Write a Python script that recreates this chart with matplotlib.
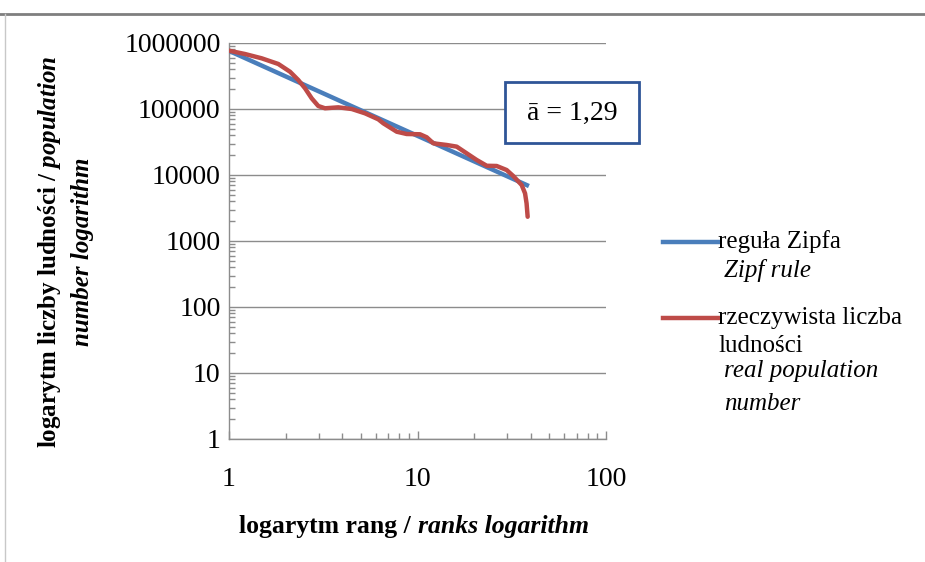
import matplotlib.pyplot as plt
from matplotlib.lines import Line2D
from matplotlib.patches import Rectangle
from matplotlib.ticker import FixedLocator, NullFormatter, FuncFormatter

plt.rcParams["mathtext.fontset"] = "custom"
plt.rcParams["mathtext.it"] = "Liberation Serif:italic:bold"
plt.rcParams["mathtext.rm"] = "Liberation Serif:bold"

# Zipf rule (fitted line, a = 1.29)
zipf_rank = [1, 39]
zipf_pop = [760000, 6800]

# real population number
real_rank = [1, 1.216, 1.491, 1.826, 2.107, 2.331, 2.531, 2.746, 2.976, 3.231, 3.80,
             4.477, 5.267, 6.195, 6.587, 7.757, 8.76, 10.31, 11.19, 12.13, 14.29,
             16.14, 18.24, 20.6, 23.3, 26.3, 29.7, 32.2, 35.7, 37.2, 37.9, 38.4]
real_pop = [765000, 681000, 586000, 481000, 367000, 275000, 206000, 145000, 111000,
            102500, 106000, 100000, 86000, 69800, 60700, 45300, 41800, 41400, 37300,
            30200, 28500, 26900, 21300, 16900, 13800, 13700, 11900, 9660, 7050, 5270,
            3720, 2330]

a_label = "ā = 1,29"
serif = "Liberation Serif"
blue = "#4a7ebb"
red = "#be4b48"

fig = plt.figure(figsize=(9.25, 5.62), dpi=100)
ax = fig.add_axes([229 / 925, 1 - 439 / 562, 377 / 925, 396 / 562])

ax.plot(zipf_rank, zipf_pop, color=blue, lw=3.2, solid_capstyle="butt", zorder=3)
ax.plot(real_rank, real_pop, color=red, lw=3.2, solid_capstyle="round",
        solid_joinstyle="round", zorder=4)

ax.set_xscale("log")
ax.set_yscale("log")
ax.set_xlim(1, 100)
ax.set_ylim(1, 1000000)

ax.yaxis.set_major_locator(FixedLocator([1, 10, 100, 1000, 10000, 100000, 1000000]))
ax.xaxis.set_major_locator(FixedLocator([1, 10, 100]))
fmt = FuncFormatter(lambda v, p: "%d" % round(v))
ax.xaxis.set_major_formatter(fmt)
ax.yaxis.set_major_formatter(fmt)
ax.xaxis.set_minor_formatter(NullFormatter())
ax.yaxis.set_minor_formatter(NullFormatter())

ax.grid(axis="y", which="major", color="#8c8c8c", lw=1)
ax.set_axisbelow(True)
for s in ["top", "right"]:
    ax.spines[s].set_visible(False)
for s in ["left", "bottom"]:
    ax.spines[s].set_color("#8c8c8c")
    ax.spines[s].set_linewidth(1)

ax.tick_params(which="both", direction="in", color="#8c8c8c", width=1)
ax.tick_params(which="major", length=6)
ax.tick_params(which="minor", length=4)
ax.tick_params(axis="y", which="major", length=0, pad=6)
ax.tick_params(axis="x", which="major", pad=20)
for lab in ax.get_xticklabels() + ax.get_yticklabels():
    lab.set_fontfamily(serif)
    lab.set_fontsize(20)

ax.text(0.5, -0.22, "logarytm rang / ", transform=ax.transAxes, ha="right", va="center",
        fontsize=18.5, fontweight="bold", fontfamily=serif)
ax.text(0.5, -0.22, "ranks logarithm", transform=ax.transAxes, ha="left", va="center",
        fontsize=18.5, fontweight="bold", fontstyle="italic", fontfamily=serif)

# y label, two lines
fig.text(50 / 925, 1 - 252 / 562, "logarytm liczby ludności / $\\it{population}$",
         rotation=90, ha="center", va="center", fontsize=18, fontweight="bold",
         fontfamily=serif)
fig.text(82 / 925, 1 - 252 / 562, "number logarithm", rotation=90, ha="center",
         va="center", fontsize=18, fontweight="bold", fontstyle="italic", fontfamily=serif)

# annotation box
fig.patches.append(Rectangle((505 / 925, 1 - 143 / 562), 134 / 925, 61 / 562,
                             transform=fig.transFigure, facecolor="white",
                             edgecolor="#2f5597", lw=2, zorder=5))
fig.text(572 / 925, 1 - 113 / 562, a_label, ha="center", va="center", fontsize=20,
         fontfamily=serif, zorder=6)

# legend
fig.add_artist(Line2D([663 / 925, 718 / 925], [1 - 242 / 562] * 2, color=blue, lw=3.2))
fig.text(718 / 925, 1 - 242 / 562, "reguła Zipfa", ha="left", va="center",
         fontsize=18, fontfamily=serif)
fig.text(724 / 925, 1 - 270 / 562, "Zipf rule", ha="left", va="center",
         fontsize=18, fontstyle="italic", fontfamily=serif)
fig.add_artist(Line2D([663 / 925, 718 / 925], [1 - 318 / 562] * 2, color=red, lw=3.2))
fig.text(718 / 925, 1 - 318 / 562, "rzeczywista liczba", ha="left", va="center",
         fontsize=18, fontfamily=serif)
fig.text(718 / 925, 1 - 346 / 562, "ludności", ha="left", va="center",
         fontsize=18, fontfamily=serif)
fig.text(724 / 925, 1 - 371 / 562, "real population", ha="left", va="center",
         fontsize=18, fontstyle="italic", fontfamily=serif)
fig.text(724 / 925, 1 - 404 / 562, "number", ha="left", va="center",
         fontsize=18, fontstyle="italic", fontfamily=serif)

# chart frame (top and left edge)
fig.add_artist(Line2D([0, 1], [1 - 14 / 562] * 2, color="#7f7f7f", lw=2))
fig.add_artist(Line2D([5 / 925] * 2, [0, 1 - 14 / 562], color="#c8c8c8", lw=1))

fig.savefig("out.png", dpi=100)
